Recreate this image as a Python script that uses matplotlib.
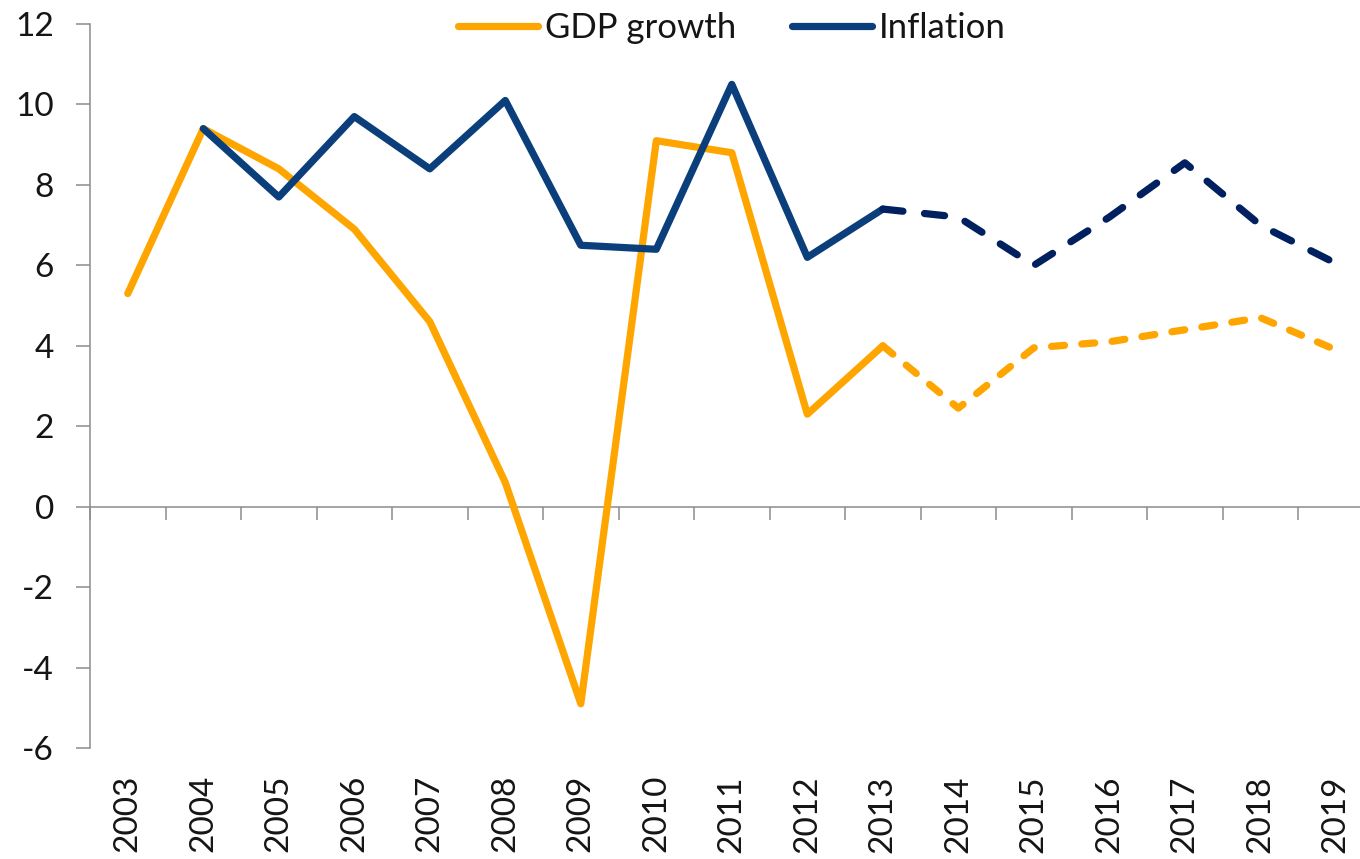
import matplotlib
matplotlib.use("Agg")
import matplotlib.pyplot as plt
import numpy as np

plt.rcParams["font.family"] = ["Lato", "DejaVu Sans"]
plt.rcParams["axes.unicode_minus"] = False  # plain hyphen like the original

# data
years = [str(y) for y in range(2003, 2020)]
gdp_growth = [5.3, 9.4, 8.4, 6.9, 4.6, 0.6, -4.9, 9.1, 8.8, 2.3, 4.0,
              2.45, 3.95, 4.1, 4.4, 4.7, 3.9]
inflation = [np.nan, 9.4, 7.7, 9.7, 8.4, 10.1, 6.5, 6.4, 10.5, 6.2, 7.4,
             7.2, 6.0, 7.2, 8.55, 7.0, 6.05]
forecast_from = "2013"  # dashed from this year on
y_ticks = list(range(-6, 13, 2))

ORANGE = "#FFA500"
BLUE = "#0B3F7B"
NAVY = "#00205F"
AXIS_GREY = "#8C8C8C"
TEXT = "#151515"

x = np.arange(len(years))
split = years.index(forecast_from)

fig = plt.figure(figsize=(13.6, 8.59), dpi=100)
fig.patch.set_facecolor("white")
ax = fig.add_axes([0.0662, 0.1292, 0.9438, 0.8428])

# actuals (solid) and forecast (dashed)
ax.plot(x[:split + 1], gdp_growth[:split + 1], color=ORANGE, lw=5.2,
        solid_capstyle="round", label="GDP growth", zorder=3)
ax.plot(x[split:], gdp_growth[split:], color=ORANGE, lw=5.2,
        dashes=(1.8, 2.4), dash_capstyle="round", zorder=3)
ax.plot(x[:split + 1], inflation[:split + 1], color=BLUE, lw=5.2,
        solid_capstyle="round", label="Inflation", zorder=4)
ax.plot(x[split:], inflation[split:], color=NAVY, lw=5.2,
        dashes=(2.8, 3.0), dash_capstyle="round", zorder=4)

ax.set_xlim(-0.5, len(years) - 0.5)
ax.set_ylim(y_ticks[0], y_ticks[-1])
ax.set_yticks(y_ticks)

# category axis sits on y=0, tick marks between categories
ax.spines[["top", "right"]].set_visible(False)
ax.spines["bottom"].set_position(("data", 0))
for s in ("left", "bottom"):
    ax.spines[s].set_color(AXIS_GREY)
    ax.spines[s].set_linewidth(1.1)
ax.set_xticks(np.arange(-0.5, len(years), 1.0))
ax.tick_params(axis="x", direction="out", length=9, width=1.1,
               color=AXIS_GREY, labelbottom=False)
ax.tick_params(axis="y", direction="out", length=10, width=1.1,
               color=AXIS_GREY, labelsize=24, labelcolor=TEXT, pad=16)

# year labels along the bottom of the plot area
for i, yr in enumerate(years):
    ax.annotate(yr, xy=(i, 0), xycoords=("data", "axes fraction"),
                xytext=(0, -27), textcoords="offset pixels",
                rotation=90, ha="center", va="top", fontsize=24, color=TEXT)

leg = ax.legend(loc="center", bbox_to_anchor=(0.5, 0.994), ncol=2,
                frameon=False, fontsize=25, handlelength=2.3,
                handletextpad=0.2, columnspacing=1.6, labelcolor=TEXT,
                borderaxespad=0)

fig.savefig("out.png", dpi=100, facecolor="white")
